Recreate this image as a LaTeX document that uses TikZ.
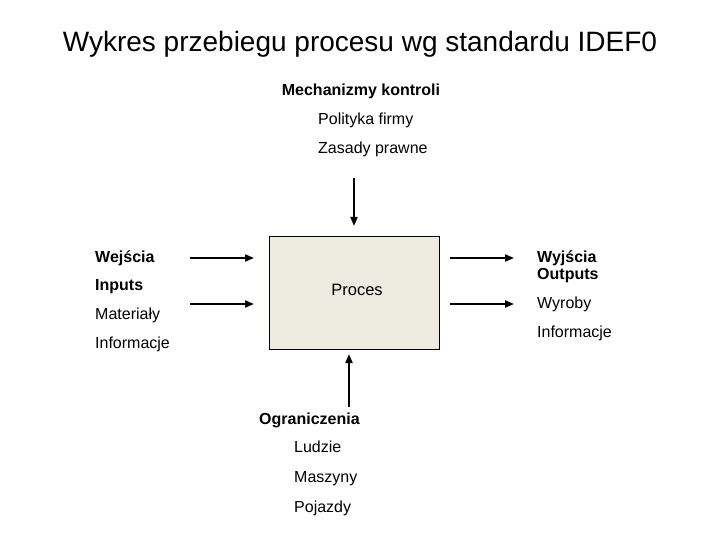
\documentclass[tikz,border=0pt]{standalone}
\usepackage{fontspec}
\setmainfont{Liberation Sans}
\usetikzlibrary{arrows.meta}
\begin{document}
\begin{tikzpicture}[x=1pt,y=-1pt,
  lbl/.style={anchor=base west,inner sep=0pt,font=\fontsize{16}{18}\selectfont},
  blbl/.style={lbl,font=\fontsize{16}{18}\selectfont\bfseries},
  conn/.style={line width=2pt,-{Triangle[length=9pt,width=7pt]}},
  procbox/.style={draw=black,line width=0.8pt,fill={rgb,255:red,237;green,234;blue,224},minimum width=170pt,minimum height=113pt,inner sep=0pt}]
\useasboundingbox (0,0) rectangle (720,540);
\node[anchor=base,inner sep=0pt,font=\fontsize{28}{32}\selectfont] (title) at (360,52) {Wykres przebiegu procesu wg standardu IDEF0};
\node[blbl,anchor=base] (mech) at (361,96) {Mechanizmy kontroli};
\node[lbl] (pol) at (318,125) {Polityka firmy};
\node[lbl] (zas) at (318,154) {Zasady prawne};
\node[procbox] (box) at (354,292.5) {};
\node[anchor=base,inner sep=0pt,font=\fontsize{16.5}{18}\selectfont] (proc) at (357,295) {Proces};
\node[blbl] (wej) at (95,262) {Wejścia};
\node[blbl] (inp) at (95,290) {Inputs};
\node[lbl] (mat) at (95,319) {Materiały};
\node[lbl] (inf1) at (95,348) {Informacje};
\node[blbl] (wyj) at (537,262) {Wyjścia};
\node[blbl] (out) at (537,279) {Outputs};
\node[lbl] (wyr) at (537,308) {Wyroby};
\node[lbl] (inf2) at (537,337) {Informacje};
\node[blbl] (ogr) at (259,424) {Ograniczenia};
\node[lbl] (lud) at (294,452) {Ludzie};
\node[lbl] (masz) at (294,482) {Maszyny};
\node[lbl] (poj) at (294,512) {Pojazdy};
\coordinate (t1) at (354,178); \coordinate (t2) at (354,226);
\coordinate (b1) at (349,407); \coordinate (b2) at (349,354);
\coordinate (l1a) at (190,258); \coordinate (l1b) at (254,258);
\coordinate (l2a) at (190,304); \coordinate (l2b) at (254,304);
\coordinate (r1a) at (450,258); \coordinate (r1b) at (514,258);
\coordinate (r2a) at (450,304); \coordinate (r2b) at (514,304);
\draw[conn] (t1) -- (t2);
\draw[conn] (b1) -- (b2);
\draw[conn] (l1a) -- (l1b);
\draw[conn] (l2a) -- (l2b);
\draw[conn] (r1a) -- (r1b);
\draw[conn] (r2a) -- (r2b);
\end{tikzpicture}
\end{document}
